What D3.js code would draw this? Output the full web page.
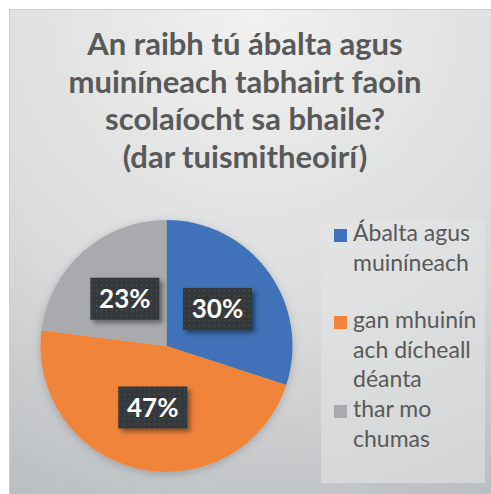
<!DOCTYPE html>
<html>
<head>
<meta charset="utf-8">
<script src="https://d3js.org/d3.v7.min.js"></script>
<style>
  body { margin: 0; background: #fff; }
  svg { display: block; }
</style>
</head>
<body>
<svg id="chart"></svg>
<script>
  // data
  var categories = ['Ábalta agus muiníneach', 'gan mhuinín ach dícheall déanta', 'thar mo chumas']
  var values = [30, 47, 23]
  var colors = ['#4072b9', '#f0843b', '#a8aaae']
  var legendLines = [['Ábalta agus', 'muiníneach'], ['gan mhuinín', 'ach dícheall', 'déanta'], ['thar mo', 'chumas']]
  var titleLines = ['An raibh tú ábalta agus', 'muiníneach tabhairt faoin', 'scolaíocht sa bhaile?', '(dar tuismitheoirí)']

  var W = 491, H = 494
  var svg = d3.select('#chart').attr('width', W).attr('height', H)
  var defs = svg.append('defs')

  // chart area background
  var bg = defs.append('radialGradient').attr('id', 'bg')
      .attr('cx', '50%').attr('cy', '0%').attr('r', '115%')
  bg.append('stop').attr('offset', '0%').attr('stop-color', '#f1f1f1')
  bg.append('stop').attr('offset', '55%').attr('stop-color', '#dadbdc')
  bg.append('stop').attr('offset', '100%').attr('stop-color', '#b7bbbd')

  var pat = defs.append('pattern').attr('id', 'dots')
      .attr('width', 5).attr('height', 5).attr('patternUnits', 'userSpaceOnUse')
  pat.append('rect').attr('width', 5).attr('height', 5).attr('fill', '#34373a')
  pat.append('rect').attr('x', 1).attr('y', 1).attr('width', 1.5).attr('height', 1.5).attr('fill', '#4a4e52')

  var sh = defs.append('filter').attr('id', 'shadow').attr('x', '-30%').attr('y', '-30%').attr('width', '170%').attr('height', '170%')
  sh.append('feDropShadow').attr('dx', 3).attr('dy', 3).attr('stdDeviation', 2.5)
      .attr('flood-color', '#000').attr('flood-opacity', 0.45)

  var psh = defs.append('filter').attr('id', 'pieshadow').attr('x', '-20%').attr('y', '-20%').attr('width', '140%').attr('height', '140%')
  psh.append('feDropShadow').attr('dx', 0).attr('dy', 2).attr('stdDeviation', 4)
      .attr('flood-color', '#000').attr('flood-opacity', 0.2)

  svg.append('rect').attr('x', 9.5).attr('y', 9.5).attr('width', W).attr('height', H)
      .attr('fill', 'url(#bg)').attr('stroke', '#cfcfcf').attr('stroke-width', 1)

  // title
  svg.append('g').selectAll('text').data(titleLines).enter().append('text')
      .attr('x', 245).attr('y', function (d, i) {return 55 + i * 37.7})
      .attr('text-anchor', 'middle')
      .style('font-family', 'Lato, sans-serif').style('font-weight', 'bold')
      .style('font-size', '31px').attr('fill', '#595959')
      .text(function (d) {return d})

  // pie
  var cx = 166.5, cy = 346, R = 126
  var pie = d3.pie().sort(null).value(function (d) {return d})
  var arc = d3.arc().innerRadius(0).outerRadius(R)
  var arcs = pie(values)

  var pg = svg.append('g').attr('transform', 'translate(' + cx + ',' + cy + ')')
  pg.append('g').attr('filter', 'url(#pieshadow)').selectAll('path').data(arcs).enter().append('path')
      .attr('d', arc)
      .attr('fill', function (d, i) {return colors[i]})

  // data labels
  var bw = 69, bh = 42
  var lab = pg.selectAll('g.lab').data(arcs).enter().append('g').attr('class', 'lab')
      .attr('transform', function (d) {var c = arc.centroid(d); return 'translate(' + c[0] + ',' + c[1] + ')'})
  lab.append('rect').attr('x', -bw / 2).attr('y', -bh / 2).attr('width', bw).attr('height', bh)
      .attr('fill', 'url(#dots)').attr('filter', 'url(#shadow)')
  lab.append('text').attr('text-anchor', 'middle').attr('dy', '0.36em')
      .style('font-family', 'Lato, sans-serif').style('font-weight', 'bold')
      .style('font-size', '26px').attr('fill', '#ffffff')
      .text(function (d) {return d.data + '%'})

  // legend
  svg.append('rect').attr('x', 321).attr('y', 219).attr('width', 164).attr('height', 264)
      .attr('fill', '#e4e5e5').attr('fill-opacity', 0.55)
  var itemY = [241, 328, 417]
  var lg = svg.append('g').selectAll('g').data(categories).enter().append('g')
      .attr('transform', function (d, i) {return 'translate(334,' + itemY[i] + ')'})
  lg.append('rect').attr('x', 0).attr('y', -12).attr('width', 13).attr('height', 13)
      .attr('fill', function (d, i) {return colors[i]})
  lg.append('text')
      .style('font-family', 'Lato, sans-serif').style('font-size', '23px').attr('fill', '#595959')
      .selectAll('tspan').data(function (d, i) {return legendLines[i]}).enter().append('tspan')
      .attr('x', 19).attr('y', function (d, j) {return j * 29.5})
      .text(function (d) {return d})
</script>
</body>
</html>
